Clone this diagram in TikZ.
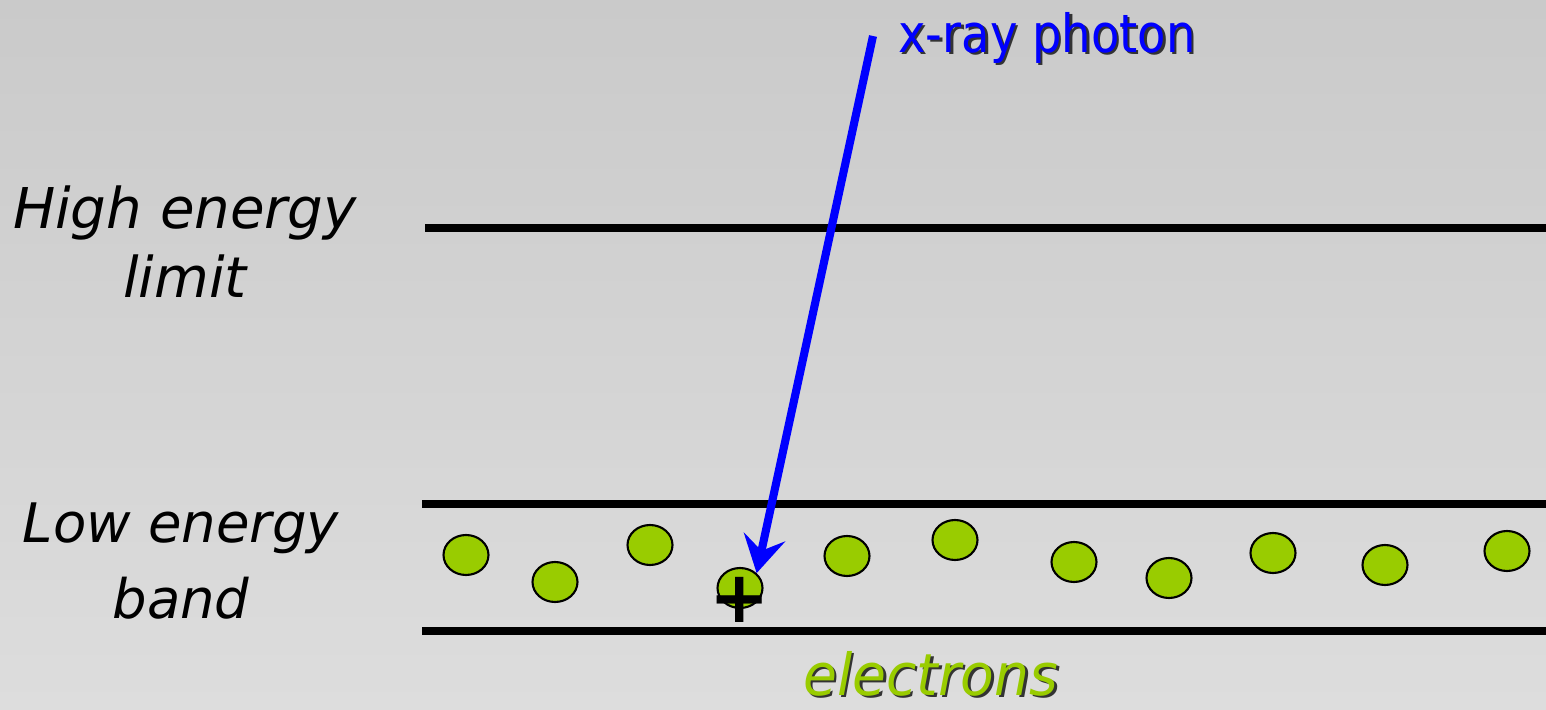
\documentclass[tikz,border=0pt]{standalone}
\usepackage{fontspec}
\setmainfont{DejaVu Sans}
\newfontfamily\xrnarrow[FakeStretch=0.88]{DejaVu Sans}
\newfontfamily\xrwide[FakeStretch=0.95]{DejaVu Sans}
\usepackage{tikz}
\usetikzlibrary{
  arrows.meta,
  shapes.geometric,
  positioning
}
\definecolor{xrBlue}{HTML}{0000FF}
\definecolor{xrGreen}{HTML}{99CC00}
\definecolor{xrBgTop}{HTML}{CACACA}
\definecolor{xrBgBot}{HTML}{DDDDDD}
% text with a soft drop shadow
\newcommand{\xrshadow}[2]{\rlap{\kern1.4pt\raisebox{-1.4pt}{\color{black!80}#2}}{\color{#1}#2}}
\tikzset{
  levelline/.style={line width=4.6pt, black},
  levellabel/.style={align=center, inner sep=0pt, anchor=base},
  electron/.style={
    ellipse, draw=black, line width=1.2pt, fill=xrGreen,
    minimum width=0.9cm, minimum height=0.8cm, inner sep=0pt
  },
  holemark/.style={font=\fontsize{41}{41}\selectfont\bfseries, inner sep=0pt},
  photon/.style={-{Stealth[length=21pt, width=24pt, inset=8pt]}, line width=4.6pt, xrBlue},
  photonlabel/.style={font=\xrnarrow\fontsize{30}{30}\selectfont, inner sep=0pt, anchor=base west},
  bandlabel/.style={font=\xrwide\fontsize{33}{33}\selectfont\itshape, inner sep=0pt, anchor=base west}
}

\begin{document}
\begin{tikzpicture}[x=0.02cm, y=-0.02cm]
  % background
  \path[top color=xrBgTop, bottom color=xrBgBot, use as bounding box] (0,0) rectangle (1546,710);

  % energy levels
  \draw[levelline] (425,228) -- (1546,228);
  \draw[levelline] (422,504) -- (1546,504);
  \draw[levelline] (422,631) -- (1546,631);

  \node[levellabel, font=\fontsize{32}{39}\selectfont\itshape] (high) at (185,297) {High energy\\limit};
  \node[levellabel, font=\fontsize{31}{43}\selectfont\itshape] (low) at (181,618) {Low energy\\band};

  % electrons in the band
  \foreach \x/\y [count=\i] in {466/555, 555/582, 650/545, 740/588, 847/556,
                                955/540, 1074/562, 1169/578, 1273/553, 1385/565, 1507/551}
    \node[electron] (e\i) at (\x,\y) {};
  \node[holemark] (plus) at (740,600) {+};

  \node[bandlabel] (electrons) at (803,695) {\xrshadow{xrGreen}{electrons}};

  % incoming photon
  \coordinate (src) at (873,36);
  \node[photonlabel] (xray) at (898,52) {\xrshadow{xrBlue}{x-ray photon}};
  \draw[photon] (src) -- (e4.north east);
\end{tikzpicture}
\end{document}
